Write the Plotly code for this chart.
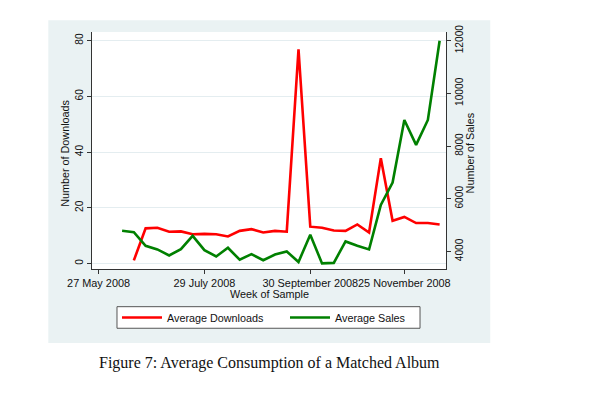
import plotly.graph_objects as go

# weekly observation dates (Tuesdays)
weeks = ["2008-06-10", "2008-06-17", "2008-06-24", "2008-07-01", "2008-07-08",
         "2008-07-15", "2008-07-22", "2008-07-29", "2008-08-05", "2008-08-12",
         "2008-08-19", "2008-08-26", "2008-09-02", "2008-09-09", "2008-09-16",
         "2008-09-23", "2008-09-30", "2008-10-07", "2008-10-14", "2008-10-21",
         "2008-10-28", "2008-11-04", "2008-11-11", "2008-11-18", "2008-11-25",
         "2008-12-02", "2008-12-09", "2008-12-16"]

downloads = [None, 1.1, 12.6, 12.8, 11.4, 11.5, 10.5, 10.6, 10.5, 9.7, 11.7,
             12.3, 11.1, 11.7, 11.4, 76.9, 13.2, 12.8, 11.8, 11.7, 14.0, 11.1,
             37.8, 15.3, 16.7, 14.5, 14.5, 14.0]

sales = [4783, 4733, 4214, 4075, 3847, 4087, 4593, 4050, 3810, 4138, 3683,
         3898, 3665, 3880, 4000, 3600, 4633, 3545, 3565, 4380, 4216, 4077,
         5768, 6615, 8992, 8044, 8992, 12000]

xtick_vals = ["2008-05-27", "2008-07-29", "2008-09-30", "2008-11-25"]
xtick_text = ["27 May 2008", "29 July 2008", "30 September 2008", "25 November 2008"]
sales_ticks = [4000, 6000, 8000, 10000, 12000]

panel = "#eaf2f3"
sans = "Liberation Sans, Arial, sans-serif"
ink = "#111111"

fig = go.Figure()
fig.add_trace(go.Scatter(x=weeks, y=downloads, name="Average Downloads",
                         mode="lines", line=dict(color="#ff0000", width=2.6)))
fig.add_trace(go.Scatter(x=weeks, y=sales, name="Average Sales", yaxis="y2",
                         mode="lines", line=dict(color="#008000", width=2.6)))

axis_common = dict(showline=True, linecolor="#333333", linewidth=1,
                   ticks="outside", ticklen=4, tickcolor="#333333",
                   tickfont=dict(family=sans, size=10.9, color=ink),
                   zeroline=False, automargin=False)
ytick_font = dict(family=sans, size=10.2, color=ink)

fig.update_layout(
    width=596, height=414,
    margin=dict(l=92, r=150, t=32, b=145),
    paper_bgcolor="white", plot_bgcolor="white",
    font=dict(family=sans, size=10.8, color=ink),
    xaxis=dict(axis_common, type="date",
               range=["2008-05-23 02:00", "2008-12-19 19:00"],
               tickvals=xtick_vals, ticktext=xtick_text, tickangle=0,
               showgrid=False),
    yaxis=dict(axis_common, range=[-2.0, 83.1], tickvals=[0, 20, 40, 60, 80],
               tickangle=-90, tickfont=ytick_font,
               showgrid=True, gridcolor="#e4edf0", gridwidth=1),
    yaxis2=dict(axis_common, overlaying="y", side="right",
                range=[3333, 12330], tickvals=sales_ticks,
                ticktext=[str(v) for v in sales_ticks], tickangle=-90,
                tickfont=ytick_font, showgrid=False),
    showlegend=True,
    legend=dict(orientation="h", x=0.0706, xanchor="left", y=-0.2046,
                yanchor="middle", bgcolor="rgba(0,0,0,0)", borderwidth=0,
                itemwidth=40, entrywidth=113,
                font=dict(family=sans, size=10.8, color=ink)),
    shapes=[
        dict(type="rect", xref="paper", yref="paper", x0=-0.1234, x1=1.125,
             y0=-0.312, y1=1.05, fillcolor=panel, line=dict(width=0),
             layer="below"),
        dict(type="rect", xref="paper", yref="paper", x0=0, x1=1,
             y0=0, y1=1, fillcolor="white", line=dict(width=0),
             layer="below"),
        # legend frame
        dict(type="rect", xref="paper", yref="paper", x0=0.0706, x1=0.9266,
             y0=-0.250, y1=-0.159, fillcolor="white",
             line=dict(color="#555555", width=1), layer="above"),
    ],
    annotations=[
        dict(text="Week of Sample", xref="paper", yref="paper", x=0.5,
             y=-0.107, showarrow=False, xanchor="center", yanchor="middle"),
        dict(text="Number of Downloads", xref="paper", yref="paper",
             x=-0.0763, y=0.49, textangle=-90, showarrow=False,
             xanchor="center", yanchor="middle"),
        dict(text="Number of Sales", xref="paper", yref="paper",
             x=1.0664, y=0.49, textangle=-90, showarrow=False,
             xanchor="center", yanchor="middle"),
        dict(text="Figure 7: Average Consumption of a Matched Album",
             xref="paper", yref="paper", x=0.5, y=-0.397, showarrow=False,
             xanchor="center", yanchor="middle",
             font=dict(family="Liberation Serif, Times New Roman, serif",
                       size=16, color=ink)),
    ],
)

fig.write_html("out.html", config={"displayModeBar": False},
               post_script="document.body.style.margin='0';")
